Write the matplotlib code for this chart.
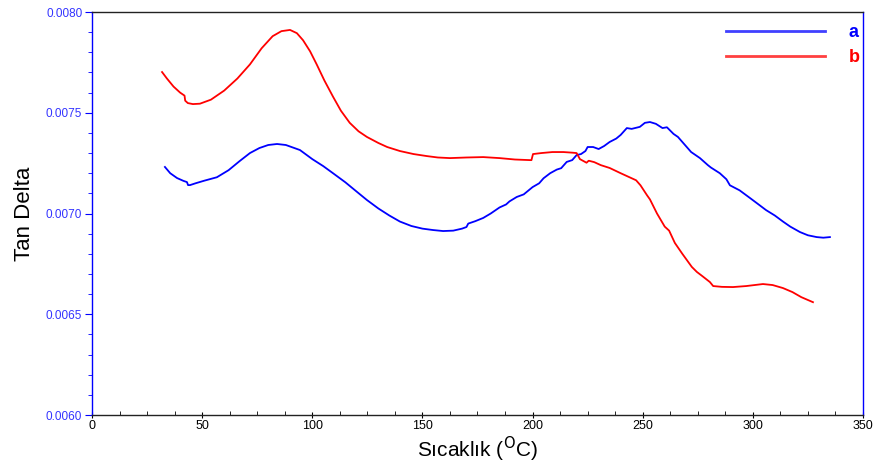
import matplotlib
matplotlib.use('Agg')
import matplotlib.pyplot as plt
from matplotlib.ticker import MultipleLocator, FormatStrFormatter

plt.rcParams['font.family'] = ['Liberation Sans', 'DejaVu Sans']

# sample a
temp_a = [33.1, 35.5, 38.6, 41.5, 43.1, 43.6, 44.5, 47.0, 51.0, 56.7, 62.0, 67.0,
          71.7, 76.0, 80.0, 84.0, 88.0, 94.4, 100.0, 105.0, 109.4, 115.0, 120.0,
          124.8, 130.0, 135.0, 139.8, 145.0, 150.0, 154.8, 159.4, 164.0, 168.0,
          170.0, 170.8, 174.0, 177.6, 181.0, 185.0, 188.0, 189.5, 192.8, 196.0,
          200.0, 203.0, 205.0, 208.0, 211.0, 213.0, 215.5, 218.0, 220.0, 222.0,
          224.0, 225.0, 227.5, 230.0, 232.5, 235.0, 238.0, 240.0, 242.8, 245.0,
          248.7, 251.0, 253.3, 256.0, 259.0, 261.0, 264.0, 266.0, 268.0, 272.0,
          276.0, 279.6, 281.0, 285.0, 288.0, 289.6, 294.0, 298.7, 302.0, 306.0,
          310.0, 313.7, 317.0, 321.4, 325.0, 329.0, 332.0, 335.0]
tan_a = [0.007231, 0.007200, 0.007176, 0.007162, 0.007156, 0.007141, 0.007141,
         0.007150, 0.007163, 0.007180, 0.007215, 0.007260, 0.007300, 0.007325,
         0.007340, 0.007345, 0.007340, 0.007315, 0.007270, 0.007235, 0.007200,
         0.007155, 0.007110, 0.007067, 0.007025, 0.006990, 0.006960, 0.006938,
         0.006925, 0.006918, 0.006913, 0.006915, 0.006925, 0.006933, 0.006950,
         0.006962, 0.006978, 0.007000, 0.007030, 0.007045, 0.007060, 0.007082,
         0.007095, 0.007131, 0.007150, 0.007175, 0.007200, 0.007218, 0.007225,
         0.007256, 0.007265, 0.007290, 0.007295, 0.007310, 0.007330, 0.007330,
         0.007320, 0.007335, 0.007355, 0.007372, 0.007390, 0.007424, 0.007420,
         0.007430, 0.007450, 0.007454, 0.007445, 0.007424, 0.007428, 0.007395,
         0.007380, 0.007355, 0.007305, 0.007275, 0.007240, 0.007228, 0.007200,
         0.007170, 0.007140, 0.007115, 0.007077, 0.007050, 0.007017, 0.006990,
         0.006960, 0.006935, 0.006908, 0.006892, 0.006883, 0.006880, 0.006883]

# sample b
temp_b = [31.8, 34.0, 37.0, 40.0, 42.0, 42.3, 43.5, 45.8, 49.0, 54.0, 60.0,
          66.0, 71.7, 77.0, 82.0, 86.0, 89.9, 93.0, 95.8, 99.0, 102.0, 105.5,
          109.4, 113.0, 117.0, 121.0, 124.8, 130.0, 134.0, 139.8, 146.0, 152.0,
          157.0, 162.5, 170.0, 177.6, 185.0, 192.0, 198.8, 199.5, 200.2, 204.0,
          209.0, 214.0, 218.0, 220.0, 221.5, 224.5, 225.5, 228.0, 231.0, 235.0,
          240.0, 244.0, 247.0, 249.0, 252.0, 253.3, 256.5, 260.0, 262.0, 264.6,
          268.0, 272.3, 274.6, 277.0, 280.5, 282.0, 286.0, 291.0, 297.0, 304.6,
          309.0, 313.7, 318.0, 322.0, 327.3]
tan_b = [0.007702, 0.007670, 0.007630, 0.007600, 0.007585, 0.007560, 0.007548,
         0.007543, 0.007545, 0.007565, 0.007610, 0.007670, 0.007740, 0.007820,
         0.007880, 0.007905, 0.007911, 0.007895, 0.007860, 0.007805, 0.007740,
         0.007660, 0.007580, 0.007510, 0.007450, 0.007408, 0.007380, 0.007350,
         0.007330, 0.007310, 0.007295, 0.007285, 0.007278, 0.007275, 0.007278,
         0.007280, 0.007275, 0.007268, 0.007265, 0.007265, 0.007295, 0.007300,
         0.007305, 0.007305, 0.007302, 0.007300, 0.007270, 0.007252, 0.007262,
         0.007255, 0.007240, 0.007226, 0.007200, 0.007180, 0.007165, 0.007140,
         0.007090, 0.007070, 0.007000, 0.006935, 0.006915, 0.006854, 0.006800,
         0.006735, 0.006710, 0.006690, 0.006660, 0.006640, 0.006636, 0.006635,
         0.006640, 0.006650, 0.006645, 0.006630, 0.006610, 0.006585, 0.006560]

fig = plt.figure(figsize=(8.73, 4.67), dpi=100)
ax = fig.add_axes([0.1054, 0.1113, 0.8831, 0.8630])

ax.plot(temp_a, tan_a, color='#0000ff', lw=1.3, label='a')
ax.plot(temp_b, tan_b, color='#ff0000', lw=1.3, label='b')

ax.set_xlim(0, 350)
ax.set_ylim(0.0060, 0.0080)
ax.xaxis.set_major_locator(MultipleLocator(50))
ax.xaxis.set_minor_locator(MultipleLocator(12.5))
ax.yaxis.set_major_locator(MultipleLocator(0.0005))
ax.yaxis.set_minor_locator(MultipleLocator(0.0001))
ax.yaxis.set_major_formatter(FormatStrFormatter('%.4f'))

ax.tick_params(axis='x', which='major', direction='inout', length=5, labelsize=9, pad=1)
ax.tick_params(axis='x', which='minor', direction='in', length=3)
ax.tick_params(axis='y', which='major', direction='out', length=5, labelsize=8.5,
               labelcolor='#3333ff', color='#0000ff', pad=2)
ax.tick_params(axis='y', which='minor', direction='out', length=3, color='#0000ff')

ax.spines['left'].set_color('#0000ff')
ax.spines['right'].set_color('#0000ff')
ax.spines['top'].set_color('#222222')
ax.spines['bottom'].set_color('#222222')
for s in ax.spines.values():
    s.set_linewidth(1.0)

ax.set_ylabel('Tan Delta', fontsize=16, labelpad=8)
ax.set_xlabel('Sıcaklık ($^{\\mathrm{O}}$C)', fontsize=15, labelpad=2)

leg = ax.legend(loc='upper right', frameon=False, handlelength=5.5, handletextpad=1.3,
                labelspacing=0.45, labelcolor='linecolor',
                prop={'weight': 'bold', 'size': 13},
                bbox_to_anchor=(1.01, 0.997), borderaxespad=0.2)
for line in leg.get_lines():
    line.set_linewidth(2)
    line.set_alpha(0.75)

fig.savefig('out.png', dpi=100)
